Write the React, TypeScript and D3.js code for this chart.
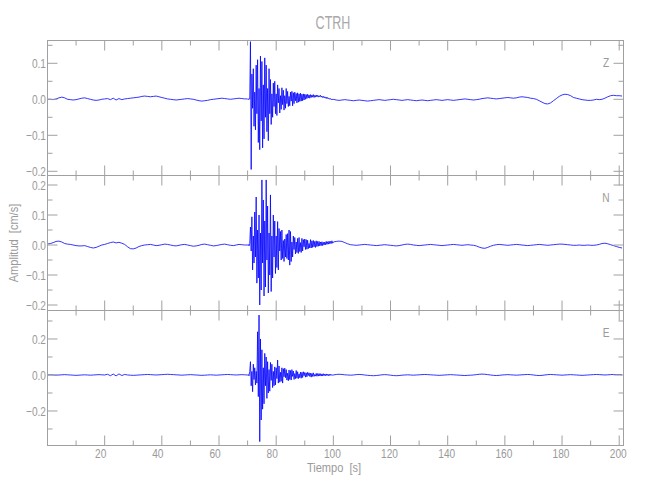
import React from "react";
import * as d3 from "d3";

// ---------------- data ----------------
const TITLE = "CTRH";
const X_LABEL = "Tiempo  [s]";
const Y_LABEL = "Amplitud  [cm/s]";
const CHANNELS = ["Z", "N", "E"];

const X_DOMAIN = [0, 201.5];
const X_TICKS_MAJOR = [20, 40, 60, 80, 100, 120, 140, 160, 180, 200];
const X_TICKS_MINOR = [10, 30, 50, 70, 90, 110, 130, 150, 170, 190];

const Y_DOMAIN_Z = [-0.2117, 0.1633];
const Y_DOMAIN_N = [-0.2183, 0.2317];
const Y_DOMAIN_E = [-0.3917, 0.3583];
const Y_MAJOR_Z = [-0.2, -0.1, 0, 0.1];
const Y_MINOR_Z = [-0.15, -0.05, 0.05, 0.15];
const Y_MAJOR_N = [-0.2, -0.1, 0, 0.1, 0.2];
const Y_MINOR_N = [-0.15, -0.05, 0.05, 0.15];
const Y_MAJOR_E = [-0.2, 0, 0.2];
const Y_MINOR_E = [-0.3, -0.1, 0.1, 0.3];

// sampled amplitudes, in units of 0.001 cm/s
const UNIT = 0.001;
const PRE_START = 0, PRE_STEP = 1;
const BURST_START = 70, BURST_STEP = 0.25, BURST_END = 100;
const POST_START = 100, POST_STEP = 1;

const zPre = [
  0, 0, -1, 1, 4, 6, 4, 0, -1, -2,
  -1, 1, 3, 4, 2, 0, -2, -3, -2, 0,
  1, 2, -1, 3, -2, 2, -1, 1, 2, 3,
  4, 5, 6, 8, 9, 8, 7, 8, 9, 7,
  5, 3, 1, 0, -1, -2, -1, 0, 1, 2,
  1, 0, -2, -4, -5, -4, -3, -1, 0, 1,
  2, 3, 2, 1, 0, 1, 2, 3, 2, 1, 0,
];
const zBurst = [
  1, -1, 2, 0,
  160, -195, 70, -25,
  85, -75, 20, -85,
  95, -40, 110, -120,
  30, -140, 120, -60,
  105, -135, 40, -110,
  115, -50, 95, -90,
  30, -115, 85, -40,
  55, -70, 15, -50,
  45, -20, 50, -40,
  15, -45, 40, -10,
  30, -38, 10, -28,
  32, -15, 25, -30,
  10, -25, 30, -12,
  22, -20, 8, -18,
  20, -5, 22, -18,
  18, -12, 20, -4,
  16, -10, 18, -8,
  15, -6, 17, -5,
  14, -4, 15, -2,
  14, 0, 13, 2,
  14, 4, 12, 3,
  13, 5, 12, 6,
  13, 5, 11, 6,
  12, 7, 11, 6,
  10, 7, 11, 6,
  9, 5, 8, 4,
  7, 3, 6, 2,
  5, 1, 3, 0,
  2, -1, 1, -2,
  0,
];
const zPost = [
  -1, -2, -3, -2, -1, -2, -3, -4, -3, -2,
  -3, -4, -5, -4, -3, -2, -1, -2, -3, -2,
  -1, 0, -1, -2, -3, -2, -1, -2, -3, -4,
  -3, -2, -3, -4, -3, -2, -1, -2, -3, -2,
  -1, -2, -3, -2, -1, 0, 1, 0, -1, -2,
  -1, 0, 2, 3, 4, 3, 2, 1, 2, 3,
  4, 5, 4, 3, 4, 6, 7, 6, 5, 3,
  2, 0, -4, -8, -12, -13, -10, -4, 2, 8,
  12, 14, 13, 10, 5, 3, 1, -1, -2, -3,
  -3, -2, 0, -1, 0, 3, 7, 10, 11, 10,
  10, 9,
];

const nPre = [
  3, 5, 8, 12, 13, 10, 5, 3, 2, 0,
  -2, -3, -3, -2, -5, -8, -10, -8, -4, 0,
  2, 5, 8, 10, 7, 9, 6, 2, -6, -12,
  -13, -10, -5, -2, 0, 1, 2, 0, -2, -1,
  1, 3, 2, 0, -2, -3, -1, 1, 2, 0,
  -2, -4, -3, -1, 2, 3, 1, -1, -3, -2,
  0, 2, 3, 1, -1, -2, 0, 2, 1, 0, 0,
];
const nBurst = [
  0, 2, -3, 5,
  60, -20, 94, -83,
  30, -60, 110, -40,
  160, -127, 50, -110,
  100, -200, 40, -150,
  217, -60, 150, -170,
  80, -140, 217, -50,
  130, -160, 40, -100,
  167, -155, 30, -110,
  100, -40, 80, -95,
  30, -75, 78, -83,
  55, -20, 45, -50,
  50, -45, 15, -55,
  20, -40, 35, -45,
  38, -50, 50, -67,
  45, -55, 10, -40,
  30, -15, 25, -30,
  10, -25, 22, -28,
  25, -22, 8, -25,
  22, -20, 18, -6,
  20, -15, 18, -14,
  16, -12, 5, -10,
  18, -10, 14, -8,
  15, -6, 12, -8,
  14, -5, 12, -4,
  12, -3, 10, -2,
  11, -2, 9, 0,
  10, 1, 12, 2,
  11, 3, 13, 4,
  12, 5, 14, 6,
  10,
];
const nPost = [
  10, 12, 13, 12, 8, 4, 1, 0, -1, 0,
  1, 2, 1, 0, -1, -2, -1, 0, 1, 0,
  -1, -2, -3, -2, 0, 2, 3, 2, 0, -1,
  -2, -1, 0, 1, 2, 1, 0, -1, -2, -1,
  0, 1, 2, 1, 0, -1, 0, 1, 0, -1,
  -3, -7, -10, -11, -8, -4, -1, 1, 2, 1,
  0, -1, 0, 1, 2, 1, 0, -1, -2, -1,
  0, 1, 2, 1, 0, -1, 0, 1, 2, 3,
  3, 2, 1, 0, -1, -1, 0, -1, -1, 0,
  -1, -1, 0, 2, 5, 6, 4, 1, -2, -5,
  -8, -10,
];

const ePre = [
  0, 1, 0, -1, 0, 1, 2, 1, 0, -1,
  -2, -1, 0, 1, 0, -1, 0, 1, 2, 1,
  0, 4, -4, 5, -5, 6, -3, 3, 0, -1,
  -2, -1, 0, 1, 2, 3, 2, 1, 0, 1,
  2, 3, 4, 3, 2, 1, 0, -1, 0, 1,
  2, 1, 0, -1, -2, -1, 0, 1, 0, -1,
  0, 1, 2, 3, 2, 1, 0, 1, 2, 1, 0,
];
const eBurst = [
  0, 3, -5, 20,
  74, -60, 20, -93,
  60, -25, 40, -55,
  20, -45, 240, -120,
  333, -370, 200, -250,
  140, -190, 40, -160,
  120, -60, 100, -130,
  74, -100, 30, -90,
  70, -30, 60, -70,
  20, -60, 45, -55,
  40, -20, 83, -45,
  50, -40, 15, -35,
  40, -45, 35, -10,
  38, -15, 30, -28,
  10, -32, 28, -25,
  25, -28, 30, -8,
  22, -25, 8, -20,
  25, -18, 18, -20,
  6, -15, 16, -18,
  15, -14, 18, -4,
  14, -12, 12, -10,
  15, -3, 12, -8,
  10, -12, 9, -8,
  12, -8, 3, -6,
  9, -7, 8, -6,
  8, -5, 7, -6,
  6, -5, 7, -4,
  5, -4, 6, -3,
  4, -4, 5, -3,
  4, -2, 3, -2,
  0,
];
const ePost = [
  2, 3, 4, 3, 1, 0, -1, 0, 2, 3,
  2, 0, -2, -3, -4, -3, -1, 1, 2, 1,
  -1, -3, -4, -3, -1, 0, 1, 0, -1, 0,
  1, 2, 3, 2, 1, 0, -1, -2, -1, 0,
  1, 2, 1, 0, -1, -2, -3, -2, -1, 0,
  2, 4, 5, 4, 2, 0, -2, -3, -2, 0,
  1, 2, 1, 0, -1, 0, 1, 2, 3, 2,
  0, -2, -3, -2, 0, 2, 3, 2, 1, 0,
  -1, 0, 1, 2, 1, 0, -1, -2, -1, 0,
  1, 2, 3, 2, 1, 0, 1, 2, 3, 2,
  2, 1,
];

// ---------------- layout ----------------
const LEFT = 47.5;
const RIGHT = 623.5;
const PANEL_TOPS = [40.5, 175.5, 310.5];
const PANEL_H = 135;
const AXIS_COLOR = "#a0a0a0";
const TEXT_COLOR = "#9a9a9a";
const LINE_COLOR = "#0000ff";
const FONT = "'Liberation Sans', Arial, sans-serif";

type Pt = [number, number];

function buildSeries(pre: number[], burst: number[], post: number[]): Pt[] {
  const pts: Pt[] = [];
  pre.forEach((v, i) => {
    const t = PRE_START + i * PRE_STEP;
    if (t < BURST_START) pts.push([t, v * UNIT]);
  });
  burst.forEach((v, i) => pts.push([BURST_START + i * BURST_STEP, v * UNIT]));
  post.forEach((v, i) => {
    const t = POST_START + i * POST_STEP;
    if (t > BURST_END) pts.push([t, v * UNIT]);
  });
  return pts;
}

function Txt(props: {
  x: number; y: number; size: number; sx?: number; anchor?: string; rotate?: number;
  fill?: string; children: React.ReactNode;
}) {
  const { x, y, size, sx = 0.78, anchor = "middle", rotate = 0, fill = TEXT_COLOR } = props;
  return (
    <text
      transform={`translate(${x},${y}) rotate(${rotate}) scale(${sx},1)`}
      fontSize={size}
      fontFamily={FONT}
      textAnchor={anchor as any}
      dominantBaseline="central"
      fill={fill}
      style={{ whiteSpace: "pre" }}
    >
      {props.children}
    </text>
  );
}

const fmtY = (v: number) => {
  const s = Math.abs(v).toFixed(1);
  return v < -1e-9 ? "\u2212" + s : s;
};

export default function App() {
  const x = d3.scaleLinear().domain(X_DOMAIN).range([LEFT, RIGHT]);
  const panels = [
    { name: CHANNELS[0], data: buildSeries(zPre, zBurst, zPost), dom: Y_DOMAIN_Z, major: Y_MAJOR_Z, minor: Y_MINOR_Z },
    { name: CHANNELS[1], data: buildSeries(nPre, nBurst, nPost), dom: Y_DOMAIN_N, major: Y_MAJOR_N, minor: Y_MINOR_N },
    { name: CHANNELS[2], data: buildSeries(ePre, eBurst, ePost), dom: Y_DOMAIN_E, major: Y_MAJOR_E, minor: Y_MINOR_E },
  ];

  return (
    <svg
      width={650}
      height={500}
      style={{ position: "absolute", left: 0, top: 0, background: "#fff" }}
    >
      <rect x={0} y={0} width={650} height={500} fill="#fff" />
      <defs>
        {panels.map((p, i) => (
          <clipPath id={`clip${i}`} key={i}>
            <rect x={LEFT} y={PANEL_TOPS[i]} width={RIGHT - LEFT} height={PANEL_H} />
          </clipPath>
        ))}
      </defs>
      <Txt x={333} y={22} size={19} sx={0.66} fill="#a8a8a8">{TITLE}</Txt>

      {panels.map((p, i) => {
        const top = PANEL_TOPS[i];
        const bot = top + PANEL_H;
        const y = d3.scaleLinear().domain(p.dom).range([bot, top]);
        const line = d3.line<Pt>().x((d) => x(d[0])).y((d) => y(d[1]));
        return (
          <g key={p.name}>
            <path
              d={line(p.data) || ""}
              fill="none"
              stroke={LINE_COLOR}
              strokeWidth={0.8}
              strokeLinejoin="round"
              clipPath={`url(#clip${i})`}
            />
            <rect x={LEFT} y={top} width={RIGHT - LEFT} height={PANEL_H} fill="none" stroke={AXIS_COLOR} strokeWidth={1} />
            {X_TICKS_MAJOR.map((t) => (
              <g key={`M${t}`}>
                <line x1={x(t)} x2={x(t)} y1={bot} y2={bot - 10} stroke={AXIS_COLOR} />
                <line x1={x(t)} x2={x(t)} y1={top} y2={top + 10} stroke={AXIS_COLOR} />
              </g>
            ))}
            {X_TICKS_MINOR.map((t) => (
              <g key={`m${t}`}>
                <line x1={x(t)} x2={x(t)} y1={bot} y2={bot - 5} stroke={AXIS_COLOR} />
                <line x1={x(t)} x2={x(t)} y1={top} y2={top + 5} stroke={AXIS_COLOR} />
              </g>
            ))}
            {p.major.map((v) => (
              <g key={`YM${v}`}>
                <line x1={LEFT} x2={LEFT + 10} y1={y(v)} y2={y(v)} stroke={AXIS_COLOR} />
                <line x1={RIGHT} x2={RIGHT - 10} y1={y(v)} y2={y(v)} stroke={AXIS_COLOR} />
                <Txt x={46} y={y(v)} size={13} anchor="end">{fmtY(v)}</Txt>
              </g>
            ))}
            {p.minor.map((v) => (
              <g key={`Ym${v}`}>
                <line x1={LEFT} x2={LEFT + 5} y1={y(v)} y2={y(v)} stroke={AXIS_COLOR} />
                <line x1={RIGHT} x2={RIGHT - 5} y1={y(v)} y2={y(v)} stroke={AXIS_COLOR} />
              </g>
            ))}
            <Txt x={606} y={top + 21} size={13}>{p.name}</Txt>
          </g>
        );
      })}

      {X_TICKS_MAJOR.map((t) => (
        <Txt key={`xl${t}`} x={x(t) - (t < 100 ? 4 : 1)} y={453} size={13}>{String(t)}</Txt>
      ))}
      <Txt x={334} y={468} size={13} sx={0.85}>{X_LABEL}</Txt>
      <Txt x={14} y={243} size={13} sx={0.85} rotate={-90}>{Y_LABEL}</Txt>
    </svg>
  );
}
